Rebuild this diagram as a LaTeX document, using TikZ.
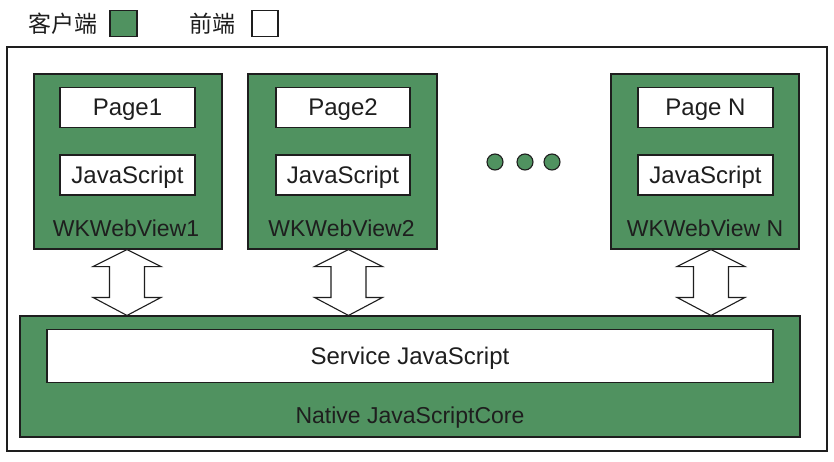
\documentclass[tikz,border=0pt]{standalone}
\usepackage{fontspec}
\setmainfont{Liberation Sans}
\newfontfamily\cjk{Noto Sans CJK SC}
\usetikzlibrary{calc}
\definecolor{cgreen}{RGB}{80,146,96}
\definecolor{ink}{RGB}{30,30,30}
\tikzset{
  frame/.style={draw=ink, line width=1.1pt, fill=white, inner sep=0pt},
  gbox/.style={draw=ink, line width=1.1pt, fill=cgreen, inner sep=0pt},
  wbox/.style={draw=ink, line width=1.1pt, fill=white, inner sep=0pt, text=ink, font=\fontsize{24}{28}\selectfont, text height=17pt, text depth=0pt},
  lbl/.style={inner sep=0pt, text=ink, font=\fontsize{23}{27}\selectfont, text height=16.5pt, text depth=0pt},
  dot/.style={circle, draw=ink, line width=1.1pt, fill=cgreen, minimum size=16pt, inner sep=0pt},
  dbl/.style={draw=ink, line width=1.1pt, fill=white, line join=miter},
}
\newcommand\udarrow[2]{%
  \draw[dbl] let \p1=(#2.south), \p2=(core.north) in
    (#1pt,\y1) -- (#1pt+34pt,\y1-17pt) -- (#1pt+17.5pt,\y1-17pt) -- (#1pt+17.5pt,\y2+18pt)
    -- (#1pt+34pt,\y2+18pt) -- (#1pt,\y2) -- (#1pt-34pt,\y2+18pt) -- (#1pt-17.5pt,\y2+18pt)
    -- (#1pt-17.5pt,\y1-17pt) -- (#1pt-34pt,\y1-17pt) -- cycle;}
\begin{document}
\begin{tikzpicture}[x=1pt,y=-1pt]
\useasboundingbox (0,0) rectangle (834,462);
% legend
\node[inner sep=0pt, text=ink, font=\cjk\fontsize{23}{26}\selectfont] (lc) at (63,24) {客户端};
\node[gbox, minimum width=27pt, minimum height=26pt] (lcg) at (123.5,23.5) {};
\node[inner sep=0pt, text=ink, font=\cjk\fontsize{23}{26}\selectfont] (lf) at (212.5,24) {前端};
\node[frame, minimum width=26pt, minimum height=26pt] (lfw) at (265,23.5) {};
% outer frame
\node[frame, minimum width=820pt, minimum height=404pt] (outer) at (417,249) {};
% webviews
\node[gbox, minimum width=188pt, minimum height=175pt] (wv1) at (128,161.5) {};
\node[wbox, minimum width=135pt, minimum height=40pt] (p1) at (127.5,107.5) {Page1};
\node[wbox, minimum width=135pt, minimum height=40pt] (j1) at (127.5,175) {JavaScript};
\node[lbl] (l1) at (126,228) {WKWebView1};

\node[gbox, minimum width=189pt, minimum height=175pt] (wv2) at (342.5,161.5) {};
\node[wbox, minimum width=134pt, minimum height=40pt] (p2) at (343,107.5) {Page2};
\node[wbox, minimum width=134pt, minimum height=40pt] (j2) at (343,175) {JavaScript};
\node[lbl] (l2) at (341.5,228) {WKWebView2};

\node[gbox, minimum width=188pt, minimum height=175pt] (wvn) at (705,161.5) {};
\node[wbox, minimum width=135pt, minimum height=40pt] (pn) at (705.5,107.5) {Page N};
\node[wbox, minimum width=135pt, minimum height=40pt] (jn) at (705.5,175) {JavaScript};
\node[lbl] (ln) at (705,228) {WKWebView N};
% dots
\node[dot] (d1) at (495,162) {};
\node[dot] (d2) at (525,162) {};
\node[dot] (d3) at (552,162) {};
% core
\node[gbox, minimum width=780pt, minimum height=121pt] (core) at (410,376.5) {};
\node[wbox, minimum width=726pt, minimum height=53pt] (svc) at (410,356) {Service JavaScript};
\node[lbl] (nat) at (410,415) {Native JavaScriptCore};
% arrows
\udarrow{127}{wv1}
\udarrow{348.5}{wv2}
\udarrow{711}{wvn}
\end{tikzpicture}
\end{document}
